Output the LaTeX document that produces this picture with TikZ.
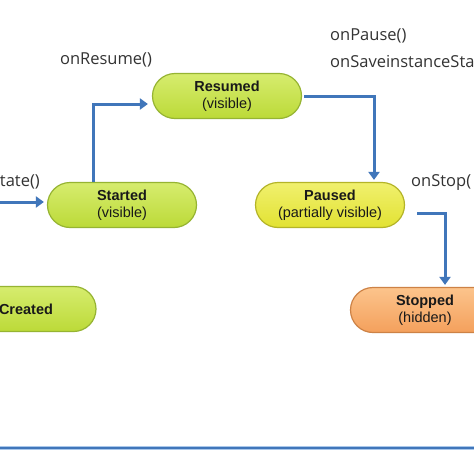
\documentclass[tikz,border=0pt]{standalone}
\usepackage{fontspec}
\setmainfont{Liberation Sans}
\newfontfamily\lblfont{Open Sans}
\usetikzlibrary{arrows.meta,calc}
\definecolor{arrblue}{RGB}{64,118,186}
\definecolor{arrlight}{RGB}{170,200,235}
\definecolor{gfillT}{RGB}{214,236,110}
\definecolor{gfillB}{RGB}{188,218,56}
\definecolor{gdraw}{RGB}{150,180,50}
\definecolor{yfillT}{RGB}{240,240,110}
\definecolor{yfillB}{RGB}{226,226,50}
\definecolor{ydraw}{RGB}{180,180,40}
\definecolor{ofillT}{RGB}{252,196,140}
\definecolor{ofillB}{RGB}{244,160,92}
\definecolor{odraw}{RGB}{205,130,70}
\definecolor{txt}{RGB}{25,25,25}
\tikzset{
  statebox/.style={rectangle, rounded corners=22.5pt, minimum width=149pt, minimum height=45pt,
    line width=1.2pt, align=center, font=\fontsize{14.5}{17}\selectfont, text=txt, inner sep=0pt},
  greenst/.style={statebox, draw=gdraw, top color=gfillT, bottom color=gfillB},
  yellowst/.style={statebox, draw=ydraw, top color=yfillT, bottom color=yfillB},
  orangest/.style={statebox, draw=odraw, top color=ofillT, bottom color=ofillB},
  arr/.style={draw=arrblue, line width=3pt, -{Triangle[width=11pt,length=8pt]}},
  lbl/.style={font=\lblfont\fontsize{16.5}{19}\selectfont, text=black!80, inner sep=0pt}
}
\begin{document}
\begin{tikzpicture}[x=1pt,y=-1pt]
\useasboundingbox (0,0) rectangle (474,474);
\fill[white] (0,0) rectangle (474,474);
\begin{scope}
\clip (0,0) rectangle (474,474);
\node[greenst] (resumed) at (227,96) {\textbf{Resumed}\\(visible)};
\node[greenst] (started) at (122,205) {\textbf{Started}\\(visible)};
\node[yellowst] (paused) at (330,205) {\textbf{Paused}\\(partially visible)};
\node[orangest] (stopped) at (425,310) {\textbf{Stopped}\\(hidden)};
\node[greenst, minimum width=140pt] (created) at (26,309) {\textbf{Created}};
\coordinate (leftin) at (0,202);
\coordinate (lineL) at (0,448);
\coordinate (lineR) at (474,448);

\draw[arr, shorten >=3pt] (leftin) -- (leftin -| started.west);
\draw[arr, shorten >=4pt] ([xshift=-29pt]started.north) |- ([yshift=-8pt]resumed.west);
\draw[arr, shorten >=2pt] ([xshift=2pt]resumed.east) -| ([xshift=44pt]paused.north);
\draw[arr, shorten >=2pt] ([xshift=12pt,yshift=-8pt]paused.east) -| ([xshift=20pt]stopped.north);

\draw[arrlight, line width=4.5pt] (lineL) -- (lineR);
\draw[arrblue, line width=2.4pt] (lineL) -- (lineR);

\node[lbl, anchor=center] (lres) at (106,60) {onResume()};
\node[lbl, anchor=west] (lpause) at (330,36) {onPause()};
\node[lbl, anchor=west] (lsave) at (330,62) {onSaveinstanceSta};
\node[lbl, anchor=west] (lstop) at (411,183) {onStop(};
\node[lbl, anchor=east] (lrest) at (40,182) {tate()};
\end{scope}
\end{tikzpicture}
\end{document}
